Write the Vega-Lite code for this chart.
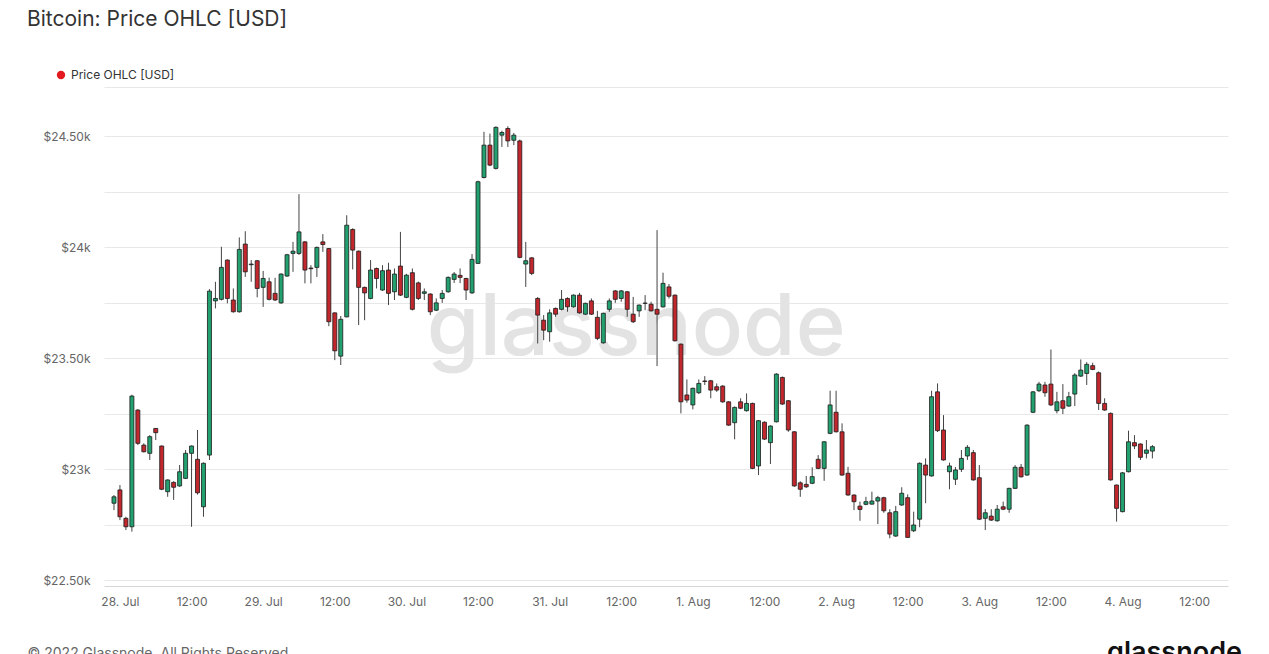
{
"$schema":"https://vega.github.io/schema/vega-lite/v6.json",
"width":1124,"height":499,
"autosize":{"type":"none"},
"padding":{"left":104,"top":87,"right":41,"bottom":68},
"background":"#ffffff",
"config":{"view":{"stroke":null},"font":"Inter"},
"title":{"text":"Bitcoin: Price OHLC [USD]","anchor":"start","frame":"group","dx":-77,"offset":39,"fontSize":21,"fontWeight":400,"color":"#333333","font":"Inter"},
"layer":[
{"data":{"values":[{"w":"glassnode"}]},
 "mark":{"type":"text","fontSize":85,"fontWeight":500,"font":"Inter","color":"#e3e3e3","align":"center","baseline":"alphabetic"},
 "encoding":{
  "x":{"datum":{"year":2022,"month":"jul","date":31,"hours":14,"minutes":30,"utc":true},"type":"temporal","scale":{"type":"utc"}},
  "y":{"datum":23514,"type":"quantitative"},
  "text":{"field":"w","type":"nominal"}}},
{"data":{"values":[
{"t":"2022-07-27T23:00Z","o":22846,"h":22883,"l":22815,"c":22875},
{"t":"2022-07-28T00:00Z","o":22906,"h":22928,"l":22770,"c":22785},
{"t":"2022-07-28T01:00Z","o":22778,"h":22785,"l":22725,"c":22740},
{"t":"2022-07-28T02:00Z","o":22740,"h":23335,"l":22718,"c":23329},
{"t":"2022-07-28T03:00Z","o":23266,"h":23270,"l":23108,"c":23116},
{"t":"2022-07-28T04:00Z","o":23108,"h":23116,"l":23075,"c":23078},
{"t":"2022-07-28T05:00Z","o":23071,"h":23153,"l":23041,"c":23146},
{"t":"2022-07-28T06:00Z","o":23183,"h":23185,"l":23131,"c":23164},
{"t":"2022-07-28T07:00Z","o":23104,"h":23106,"l":22905,"c":22909},
{"t":"2022-07-28T08:00Z","o":22898,"h":22953,"l":22875,"c":22951},
{"t":"2022-07-28T09:00Z","o":22940,"h":22945,"l":22861,"c":22918},
{"t":"2022-07-28T10:00Z","o":22924,"h":23018,"l":22920,"c":22988},
{"t":"2022-07-28T11:00Z","o":22958,"h":23086,"l":22955,"c":23071},
{"t":"2022-07-28T12:00Z","o":23071,"h":23106,"l":22740,"c":23104},
{"t":"2022-07-28T13:00Z","o":23044,"h":23176,"l":22885,"c":22893},
{"t":"2022-07-28T14:00Z","o":22830,"h":23030,"l":22785,"c":23026},
{"t":"2022-07-28T15:00Z","o":23063,"h":23811,"l":23041,"c":23802},
{"t":"2022-07-28T16:00Z","o":23758,"h":23844,"l":23724,"c":23769},
{"t":"2022-07-28T17:00Z","o":23765,"h":24002,"l":23760,"c":23909},
{"t":"2022-07-28T18:00Z","o":23942,"h":23945,"l":23747,"c":23769},
{"t":"2022-07-28T19:00Z","o":23762,"h":23814,"l":23705,"c":23709},
{"t":"2022-07-28T20:00Z","o":23709,"h":24044,"l":23705,"c":23990},
{"t":"2022-07-28T21:00Z","o":24014,"h":24072,"l":23866,"c":23889},
{"t":"2022-07-28T22:00Z","o":23921,"h":23942,"l":23844,"c":23924},
{"t":"2022-07-28T23:00Z","o":23939,"h":23942,"l":23774,"c":23814},
{"t":"2022-07-29T00:00Z","o":23819,"h":23893,"l":23731,"c":23859},
{"t":"2022-07-29T01:00Z","o":23844,"h":23863,"l":23760,"c":23765},
{"t":"2022-07-29T02:00Z","o":23792,"h":23862,"l":23758,"c":23762},
{"t":"2022-07-29T03:00Z","o":23749,"h":23882,"l":23745,"c":23879},
{"t":"2022-07-29T04:00Z","o":23870,"h":23970,"l":23866,"c":23966},
{"t":"2022-07-29T05:00Z","o":23972,"h":24024,"l":23889,"c":23982},
{"t":"2022-07-29T06:00Z","o":23972,"h":24239,"l":23965,"c":24069},
{"t":"2022-07-29T07:00Z","o":24024,"h":24028,"l":23837,"c":23897},
{"t":"2022-07-29T08:00Z","o":23906,"h":23919,"l":23837,"c":23903},
{"t":"2022-07-29T09:00Z","o":23909,"h":24003,"l":23866,"c":23999},
{"t":"2022-07-29T10:00Z","o":24024,"h":24059,"l":23979,"c":24012},
{"t":"2022-07-29T11:00Z","o":23994,"h":23996,"l":23644,"c":23664},
{"t":"2022-07-29T12:00Z","o":23704,"h":23706,"l":23491,"c":23533},
{"t":"2022-07-29T13:00Z","o":23509,"h":23690,"l":23469,"c":23675},
{"t":"2022-07-29T14:00Z","o":23686,"h":24144,"l":23684,"c":24099},
{"t":"2022-07-29T15:00Z","o":24080,"h":24085,"l":23900,"c":23987},
{"t":"2022-07-29T16:00Z","o":23982,"h":23985,"l":23649,"c":23819},
{"t":"2022-07-29T17:00Z","o":23819,"h":23822,"l":23671,"c":23794},
{"t":"2022-07-29T18:00Z","o":23769,"h":23942,"l":23765,"c":23897},
{"t":"2022-07-29T19:00Z","o":23904,"h":23908,"l":23814,"c":23859},
{"t":"2022-07-29T20:00Z","o":23807,"h":23919,"l":23803,"c":23894},
{"t":"2022-07-29T21:00Z","o":23897,"h":23930,"l":23739,"c":23792},
{"t":"2022-07-29T22:00Z","o":23799,"h":23904,"l":23762,"c":23879},
{"t":"2022-07-29T23:00Z","o":23915,"h":24069,"l":23780,"c":23784},
{"t":"2022-07-30T00:00Z","o":23774,"h":23880,"l":23770,"c":23874},
{"t":"2022-07-30T01:00Z","o":23885,"h":23904,"l":23715,"c":23720},
{"t":"2022-07-30T02:00Z","o":23839,"h":23845,"l":23762,"c":23769},
{"t":"2022-07-30T03:00Z","o":23792,"h":23814,"l":23762,"c":23799},
{"t":"2022-07-30T04:00Z","o":23789,"h":23792,"l":23694,"c":23709},
{"t":"2022-07-30T05:00Z","o":23716,"h":23769,"l":23712,"c":23749},
{"t":"2022-07-30T06:00Z","o":23769,"h":23807,"l":23749,"c":23792},
{"t":"2022-07-30T07:00Z","o":23799,"h":23868,"l":23795,"c":23864},
{"t":"2022-07-30T08:00Z","o":23855,"h":23888,"l":23839,"c":23879},
{"t":"2022-07-30T09:00Z","o":23873,"h":23904,"l":23838,"c":23864},
{"t":"2022-07-30T10:00Z","o":23859,"h":23862,"l":23762,"c":23807},
{"t":"2022-07-30T11:00Z","o":23794,"h":23969,"l":23790,"c":23945},
{"t":"2022-07-30T12:00Z","o":23927,"h":24300,"l":23925,"c":24295},
{"t":"2022-07-30T13:00Z","o":24314,"h":24520,"l":24310,"c":24460},
{"t":"2022-07-30T14:00Z","o":24460,"h":24512,"l":24365,"c":24370},
{"t":"2022-07-30T15:00Z","o":24355,"h":24545,"l":24350,"c":24540},
{"t":"2022-07-30T16:00Z","o":24505,"h":24525,"l":24452,"c":24517},
{"t":"2022-07-30T17:00Z","o":24535,"h":24545,"l":24452,"c":24479},
{"t":"2022-07-30T18:00Z","o":24482,"h":24515,"l":24460,"c":24505},
{"t":"2022-07-30T19:00Z","o":24479,"h":24485,"l":23950,"c":23954},
{"t":"2022-07-30T20:00Z","o":23924,"h":24024,"l":23821,"c":23939},
{"t":"2022-07-30T21:00Z","o":23952,"h":23955,"l":23874,"c":23882},
{"t":"2022-07-30T22:00Z","o":23769,"h":23775,"l":23566,"c":23694},
{"t":"2022-07-30T23:00Z","o":23671,"h":23694,"l":23581,"c":23626},
{"t":"2022-07-31T00:00Z","o":23619,"h":23720,"l":23574,"c":23704},
{"t":"2022-07-31T01:00Z","o":23724,"h":23728,"l":23686,"c":23698},
{"t":"2022-07-31T02:00Z","o":23720,"h":23807,"l":23715,"c":23765},
{"t":"2022-07-31T03:00Z","o":23769,"h":23774,"l":23709,"c":23731},
{"t":"2022-07-31T04:00Z","o":23731,"h":23787,"l":23728,"c":23784},
{"t":"2022-07-31T05:00Z","o":23784,"h":23794,"l":23700,"c":23704},
{"t":"2022-07-31T06:00Z","o":23698,"h":23750,"l":23695,"c":23747},
{"t":"2022-07-31T07:00Z","o":23758,"h":23769,"l":23695,"c":23698},
{"t":"2022-07-31T08:00Z","o":23684,"h":23713,"l":23581,"c":23589},
{"t":"2022-07-31T09:00Z","o":23569,"h":23705,"l":23565,"c":23702},
{"t":"2022-07-31T10:00Z","o":23720,"h":23769,"l":23709,"c":23758},
{"t":"2022-07-31T11:00Z","o":23803,"h":23807,"l":23749,"c":23765},
{"t":"2022-07-31T12:00Z","o":23769,"h":23807,"l":23754,"c":23803},
{"t":"2022-07-31T13:00Z","o":23799,"h":23803,"l":23686,"c":23720},
{"t":"2022-07-31T14:00Z","o":23698,"h":23776,"l":23658,"c":23664},
{"t":"2022-07-31T15:00Z","o":23713,"h":23742,"l":23686,"c":23739},
{"t":"2022-07-31T16:00Z","o":23747,"h":23784,"l":23716,"c":23748},
{"t":"2022-07-31T17:00Z","o":23743,"h":23754,"l":23710,"c":23713},
{"t":"2022-07-31T18:00Z","o":23720,"h":24077,"l":23464,"c":23698},
{"t":"2022-07-31T19:00Z","o":23731,"h":23885,"l":23728,"c":23837},
{"t":"2022-07-31T20:00Z","o":23821,"h":23834,"l":23769,"c":23779},
{"t":"2022-07-31T21:00Z","o":23784,"h":23787,"l":23575,"c":23578},
{"t":"2022-07-31T22:00Z","o":23563,"h":23566,"l":23251,"c":23303},
{"t":"2022-07-31T23:00Z","o":23334,"h":23404,"l":23299,"c":23311},
{"t":"2022-08-01T00:00Z","o":23289,"h":23367,"l":23269,"c":23364},
{"t":"2022-08-01T01:00Z","o":23344,"h":23404,"l":23338,"c":23386},
{"t":"2022-08-01T02:00Z","o":23397,"h":23419,"l":23379,"c":23395},
{"t":"2022-08-01T03:00Z","o":23398,"h":23402,"l":23319,"c":23356},
{"t":"2022-08-01T04:00Z","o":23371,"h":23386,"l":23348,"c":23356},
{"t":"2022-08-01T05:00Z","o":23374,"h":23378,"l":23299,"c":23303},
{"t":"2022-08-01T06:00Z","o":23303,"h":23306,"l":23195,"c":23198},
{"t":"2022-08-01T07:00Z","o":23209,"h":23282,"l":23134,"c":23278},
{"t":"2022-08-01T08:00Z","o":23303,"h":23319,"l":23270,"c":23274},
{"t":"2022-08-01T09:00Z","o":23263,"h":23341,"l":23259,"c":23296},
{"t":"2022-08-01T10:00Z","o":23296,"h":23299,"l":23000,"c":23003},
{"t":"2022-08-01T11:00Z","o":23014,"h":23221,"l":22973,"c":23218},
{"t":"2022-08-01T12:00Z","o":23211,"h":23215,"l":23131,"c":23135},
{"t":"2022-08-01T13:00Z","o":23119,"h":23197,"l":23023,"c":23194},
{"t":"2022-08-01T14:00Z","o":23213,"h":23432,"l":23210,"c":23428},
{"t":"2022-08-01T15:00Z","o":23413,"h":23417,"l":23289,"c":23293},
{"t":"2022-08-01T16:00Z","o":23308,"h":23311,"l":23168,"c":23176},
{"t":"2022-08-01T17:00Z","o":23168,"h":23171,"l":22920,"c":22924},
{"t":"2022-08-01T18:00Z","o":22938,"h":22945,"l":22875,"c":22909},
{"t":"2022-08-01T19:00Z","o":22931,"h":22969,"l":22915,"c":22920},
{"t":"2022-08-01T20:00Z","o":22936,"h":23008,"l":22932,"c":22966},
{"t":"2022-08-01T21:00Z","o":23044,"h":23063,"l":23000,"c":23003},
{"t":"2022-08-01T22:00Z","o":23003,"h":23126,"l":22947,"c":23123},
{"t":"2022-08-01T23:00Z","o":23161,"h":23353,"l":23157,"c":23289},
{"t":"2022-08-02T00:00Z","o":23256,"h":23353,"l":23165,"c":23168},
{"t":"2022-08-02T01:00Z","o":23168,"h":23206,"l":22970,"c":22973},
{"t":"2022-08-02T02:00Z","o":22981,"h":23010,"l":22880,"c":22883},
{"t":"2022-08-02T03:00Z","o":22883,"h":22886,"l":22815,"c":22853},
{"t":"2022-08-02T04:00Z","o":22833,"h":22853,"l":22767,"c":22818},
{"t":"2022-08-02T05:00Z","o":22841,"h":22875,"l":22837,"c":22853},
{"t":"2022-08-02T06:00Z","o":22842,"h":22898,"l":22840,"c":22856},
{"t":"2022-08-02T07:00Z","o":22856,"h":22879,"l":22752,"c":22871},
{"t":"2022-08-02T08:00Z","o":22871,"h":22875,"l":22803,"c":22812},
{"t":"2022-08-02T09:00Z","o":22803,"h":22819,"l":22688,"c":22707},
{"t":"2022-08-02T10:00Z","o":22698,"h":22834,"l":22695,"c":22808},
{"t":"2022-08-02T11:00Z","o":22838,"h":22918,"l":22834,"c":22891},
{"t":"2022-08-02T12:00Z","o":22871,"h":22886,"l":22690,"c":22692},
{"t":"2022-08-02T13:00Z","o":22722,"h":22808,"l":22716,"c":22748},
{"t":"2022-08-02T14:00Z","o":22774,"h":23030,"l":22738,"c":23026},
{"t":"2022-08-02T15:00Z","o":23018,"h":23048,"l":22846,"c":22973},
{"t":"2022-08-02T16:00Z","o":22969,"h":23353,"l":22966,"c":23326},
{"t":"2022-08-02T17:00Z","o":23348,"h":23386,"l":23167,"c":23173},
{"t":"2022-08-02T18:00Z","o":23176,"h":23243,"l":23038,"c":23041},
{"t":"2022-08-02T19:00Z","o":22988,"h":23029,"l":22909,"c":23014},
{"t":"2022-08-02T20:00Z","o":22954,"h":23009,"l":22928,"c":22996},
{"t":"2022-08-02T21:00Z","o":22999,"h":23086,"l":22987,"c":23048},
{"t":"2022-08-02T22:00Z","o":23059,"h":23108,"l":23041,"c":23098},
{"t":"2022-08-02T23:00Z","o":23074,"h":23086,"l":22948,"c":22951},
{"t":"2022-08-03T00:00Z","o":22961,"h":23018,"l":22770,"c":22774},
{"t":"2022-08-03T01:00Z","o":22778,"h":22820,"l":22725,"c":22803},
{"t":"2022-08-03T02:00Z","o":22788,"h":22819,"l":22766,"c":22770},
{"t":"2022-08-03T03:00Z","o":22767,"h":22838,"l":22763,"c":22819},
{"t":"2022-08-03T04:00Z","o":22830,"h":22853,"l":22815,"c":22819},
{"t":"2022-08-03T05:00Z","o":22819,"h":22916,"l":22803,"c":22913},
{"t":"2022-08-03T06:00Z","o":22913,"h":23018,"l":22910,"c":23008},
{"t":"2022-08-03T07:00Z","o":23008,"h":23023,"l":22962,"c":22965},
{"t":"2022-08-03T08:00Z","o":22973,"h":23202,"l":22970,"c":23198},
{"t":"2022-08-03T09:00Z","o":23256,"h":23352,"l":23252,"c":23348},
{"t":"2022-08-03T10:00Z","o":23353,"h":23393,"l":23347,"c":23383},
{"t":"2022-08-03T11:00Z","o":23379,"h":23393,"l":23326,"c":23344},
{"t":"2022-08-03T12:00Z","o":23383,"h":23539,"l":23284,"c":23289},
{"t":"2022-08-03T13:00Z","o":23263,"h":23348,"l":23251,"c":23303},
{"t":"2022-08-03T14:00Z","o":23308,"h":23383,"l":23248,"c":23274},
{"t":"2022-08-03T15:00Z","o":23284,"h":23348,"l":23281,"c":23326},
{"t":"2022-08-03T16:00Z","o":23338,"h":23432,"l":23284,"c":23424},
{"t":"2022-08-03T17:00Z","o":23419,"h":23494,"l":23415,"c":23446},
{"t":"2022-08-03T18:00Z","o":23431,"h":23482,"l":23379,"c":23472},
{"t":"2022-08-03T19:00Z","o":23466,"h":23479,"l":23446,"c":23449},
{"t":"2022-08-03T20:00Z","o":23434,"h":23440,"l":23266,"c":23296},
{"t":"2022-08-03T21:00Z","o":23296,"h":23319,"l":23263,"c":23266},
{"t":"2022-08-03T22:00Z","o":23251,"h":23255,"l":22948,"c":22951},
{"t":"2022-08-03T23:00Z","o":22928,"h":22930,"l":22763,"c":22823},
{"t":"2022-08-04T00:00Z","o":22808,"h":22987,"l":22805,"c":22983},
{"t":"2022-08-04T01:00Z","o":22988,"h":23173,"l":22985,"c":23123},
{"t":"2022-08-04T02:00Z","o":23119,"h":23153,"l":23090,"c":23104},
{"t":"2022-08-04T03:00Z","o":23113,"h":23116,"l":23041,"c":23053},
{"t":"2022-08-04T04:00Z","o":23071,"h":23131,"l":23048,"c":23086},
{"t":"2022-08-04T05:00Z","o":23081,"h":23108,"l":23048,"c":23101}
]},
"encoding":{
 "x":{"field":"t","type":"temporal","scale":{"type":"utc","domain":[{"year":2022,"month":"jul","date":27,"hours":22,"minutes":10,"utc":true},{"year":2022,"month":"aug","date":4,"hours":16,"minutes":50,"utc":true}]},
  "axis":{"values":[
    {"year":2022,"month":"jul","date":28,"hours":0,"utc":true},{"year":2022,"month":"jul","date":28,"hours":12,"utc":true},
    {"year":2022,"month":"jul","date":29,"hours":0,"utc":true},{"year":2022,"month":"jul","date":29,"hours":12,"utc":true},
    {"year":2022,"month":"jul","date":30,"hours":0,"utc":true},{"year":2022,"month":"jul","date":30,"hours":12,"utc":true},
    {"year":2022,"month":"jul","date":31,"hours":0,"utc":true},{"year":2022,"month":"jul","date":31,"hours":12,"utc":true},
    {"year":2022,"month":"aug","date":1,"hours":0,"utc":true},{"year":2022,"month":"aug","date":1,"hours":12,"utc":true},
    {"year":2022,"month":"aug","date":2,"hours":0,"utc":true},{"year":2022,"month":"aug","date":2,"hours":12,"utc":true},
    {"year":2022,"month":"aug","date":3,"hours":0,"utc":true},{"year":2022,"month":"aug","date":3,"hours":12,"utc":true},
    {"year":2022,"month":"aug","date":4,"hours":0,"utc":true},{"year":2022,"month":"aug","date":4,"hours":12,"utc":true}],
   "labelExpr":"utchours(datum.value) == 0 ? utcFormat(datum.value, '%-d. %b') : utcFormat(datum.value, '%H:%M')",
   "grid":false,"ticks":false,"domainColor":"#d6d6d6","labelColor":"#666666","labelFontSize":12,"labelFont":"Inter","labelPadding":10,
   "title":"© 2022 Glassnode. All Rights Reserved.","titleX":-77,"titleY":71,"titleAlign":"left","titleAnchor":"start","titleBaseline":"alphabetic","titleFontSize":14,"titleFontWeight":"normal","titleColor":"#666666","titleFont":"Inter"}},
 "y":{"field":"l","type":"quantitative","scale":{"domain":[22473,24722],"zero":false,"nice":false},
  "axis":{"values":[22500,22750,23000,23250,23500,23750,24000,24250,24500,24722],
   "labelExpr":"datum.value % 500 == 0 ? '$' + (datum.value % 1000 == 0 ? format(datum.value/1000, 'd') : format(datum.value/1000, '.2f')) + 'k' : ''",
   "grid":true,"gridColor":"#e8e8e8","domain":false,"ticks":false,"labelPadding":14,"labelColor":"#666666","labelFontSize":12,"labelFont":"Inter",
   "title":"glassnode","titleAngle":0,"titleX":1070,"titleY":573,"titleAlign":"center","titleBaseline":"alphabetic","titleFontSize":27,"titleFontWeight":600,"titleColor":"#111111","titleFont":"Inter"}}
},
"layer":[
{"mark":{"type":"rule","color":"#444444","strokeWidth":1},
 "encoding":{
  "y2":{"field":"h"},
  "opacity":{"datum":"Price OHLC [USD]","type":"nominal","scale":{"range":[1]},
   "legend":{"title":null,"orient":"none","legendX":-49,"legendY":-18,"symbolType":"circle","symbolSize":70,"symbolFillColor":"#e3191f","symbolStrokeWidth":0,"labelFontSize":12,"labelColor":"#333333","labelFont":"Inter","labelOffset":4,"padding":0,
    "encode":{"symbols":{"update":{"fill":{"value":"#e3191f"},"stroke":{"value":"#e3191f"},"strokeWidth":{"value":0},"opacity":{"value":1}}}}}}}},
{"mark":{"type":"bar","size":4,"stroke":"#1b1b1b","strokeWidth":0.8},
 "encoding":{
  "y":{"field":"o","type":"quantitative"},
  "y2":{"field":"c"},
  "fill":{"condition":{"test":"datum.c >= datum.o","value":"#22a06f"},"value":"#c1272d"}}}
]}
]
}
